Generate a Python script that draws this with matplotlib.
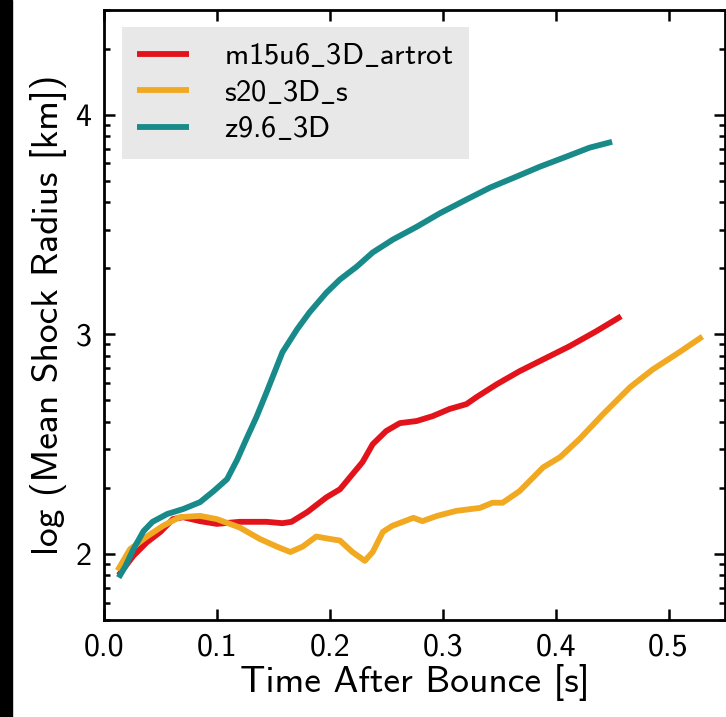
import numpy as np
import matplotlib
matplotlib.use("Agg")
import matplotlib.pyplot as plt
from matplotlib.ticker import LogLocator, FuncFormatter, NullFormatter, MultipleLocator
from matplotlib.patches import Rectangle

# Mean shock radius vs. time after bounce for three 3D models
t_m15 = [0.013, 0.026, 0.038, 0.050, 0.061, 0.070, 0.085, 0.100, 0.120, 0.144, 0.158,
         0.166, 0.180, 0.197, 0.209, 0.218, 0.229, 0.238, 0.250, 0.262, 0.277, 0.291,
         0.306, 0.321, 0.330, 0.348, 0.368, 0.389, 0.412, 0.436, 0.458]
r_m15 = [80, 98, 113, 126, 144, 147, 141, 137, 140, 140, 138,
         140, 155, 181, 197, 224, 262, 316, 363, 394, 403, 424,
         457, 481, 518, 593, 679, 769, 881, 1033, 1208]

t_s20 = [0.012, 0.023, 0.038, 0.052, 0.067, 0.085, 0.100, 0.120, 0.138, 0.153, 0.165,
         0.176, 0.188, 0.200, 0.209, 0.220, 0.231, 0.238, 0.247, 0.255, 0.274, 0.282,
         0.295, 0.312, 0.333, 0.344, 0.353, 0.368, 0.389, 0.404, 0.421, 0.442, 0.466,
         0.486, 0.510, 0.530]
r_s20 = [84, 105, 120, 134, 147, 149, 144, 132, 117, 108, 102,
         108, 120, 117, 115, 102, 93, 102, 126, 134, 146, 141,
         149, 157, 162, 171, 171, 193, 248, 276, 333, 433, 575,
         692, 832, 977]

t_z96 = [0.013, 0.019, 0.026, 0.035, 0.043, 0.056, 0.070, 0.085, 0.097, 0.109, 0.118,
         0.126, 0.135, 0.144, 0.158, 0.171, 0.182, 0.197, 0.209, 0.224, 0.238, 0.256,
         0.277, 0.297, 0.321, 0.342, 0.365, 0.386, 0.410, 0.430, 0.450]
r_z96 = [78, 88, 105, 127, 140, 152, 160, 172, 193, 219, 269,
         333, 420, 545, 828, 1054, 1259, 1549, 1778, 2037, 2360, 2704,
         3090, 3548, 4110, 4660, 5220, 5800, 6460, 7080, 7530]

# cmss10 has no real underscore glyph, so take it from mathtext
labels = [r'm15u6$\_$3D$\_$artrot', r's20$\_$3D$\_$s', r'z9.6$\_$3D']
colors = ['#e3131b', '#f2a922', '#188a8a']

plt.rcParams['font.family'] = ['cmss10', 'DejaVu Sans']
plt.rcParams['mathtext.fontset'] = 'cm'
plt.rcParams['axes.unicode_minus'] = False

fig = plt.figure(figsize=(7.26, 7.17), dpi=100)
fig.patches.append(Rectangle((0, 0), 12 / 726, 1, transform=fig.transFigure,
                             color='black', zorder=0))
ax = fig.add_axes([104 / 726, 1 - 620 / 717, 621 / 726, 610 / 717])

for t, r, lab, c in zip([t_m15, t_s20, t_z96], [r_m15, r_s20, r_z96], labels, colors):
    ax.plot(t, r, color=c, lw=4.2, label=lab, solid_capstyle='butt', solid_joinstyle='round')

ax.set_yscale('log')
ax.set_xlim(0, 0.55)
ax.set_ylim(50, 30000)
ax.xaxis.set_major_locator(MultipleLocator(0.1))
ax.xaxis.set_major_formatter(FuncFormatter(lambda v, p: f'{v:.1f}'))
ax.yaxis.set_major_locator(LogLocator(base=10))
ax.yaxis.set_minor_locator(LogLocator(base=10, subs=np.arange(2, 10)))
ax.yaxis.set_major_formatter(FuncFormatter(lambda v, p: f'{np.log10(v):.0f}'))
ax.yaxis.set_minor_formatter(NullFormatter())

ax.tick_params(which='both', direction='in', top=True, right=True, labelsize=23, width=1.8)
ax.tick_params(which='major', length=8, pad=9)
ax.tick_params(which='minor', length=4.5)
ax.tick_params(axis='x', which='minor', top=False, bottom=False)
for s in ax.spines.values():
    s.set_linewidth(2)

ax.set_xlabel('Time After Bounce [s]', fontsize=27, labelpad=2)
ax.set_ylabel('log (Mean Shock Radius [km])', fontsize=27, labelpad=6)

leg = ax.legend(loc='upper left', fontsize=22, frameon=True, fancybox=False,
                handlelength=1.7, handletextpad=1.15, labelspacing=0.28,
                borderpad=0.5, borderaxespad=0, bbox_to_anchor=(0.029, 0.972))
leg.get_frame().set_facecolor('#e8e8e8')
leg.get_frame().set_edgecolor('none')
leg.get_frame().set_alpha(1)

fig.savefig('out.png', dpi=100)
